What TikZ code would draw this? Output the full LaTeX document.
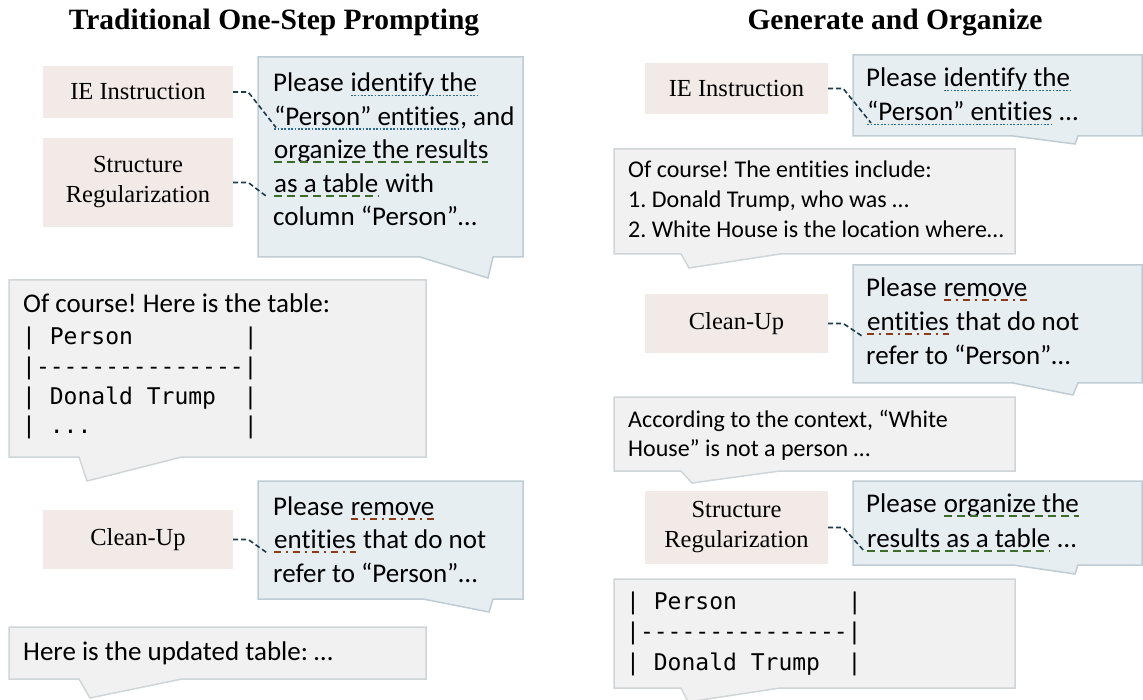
\documentclass[tikz,border=0pt]{standalone}
\usepackage{fontspec}
\setmainfont{Liberation Serif}
\setmonofont{DejaVu Sans Mono}
\newfontfamily\bubfont[Ligatures=NoCommon]{Carlito}
\frenchspacing

\definecolor{labelfill}{HTML}{F2EAE7}
\definecolor{bluefill}{HTML}{E7EEF2}
\definecolor{blueedge}{HTML}{BFCCD4}
\definecolor{grayfill}{HTML}{F1F1F1}
\definecolor{grayedge}{HTML}{D0D5D8}
\definecolor{conncol}{HTML}{1C3B4C}
\definecolor{idblue}{HTML}{2B6A96}
\definecolor{orggreen}{HTML}{3D6B2A}
\definecolor{rmbrown}{HTML}{8E3A17}

% underlined words inside a bubble line
\newcommand{\mkline}[2]{\tikz[baseline=(w.base)]{\node[inner sep=0pt,outer sep=0pt] (w) {#2};
  \draw[#1] ([yshift=-3.5pt]w.base west) -- ([yshift=-3.5pt]w.base east);}}
% speech bubble: style, x1, y1, x2, y2, tail left, tip x, tip y, tail right
\newcommand{\bubble}[9]{\draw[#1] (#2,#3) -- (#4,#3) -- (#4,#5) -- (#9,#5) -- (#7,#8) -- (#6,#5) -- (#2,#5) -- cycle;}

\begin{document}
\begin{tikzpicture}  % ------ one-step vs generate and organize --------------
      [x=1pt,y=-1pt,
       title/.style={font=\fontsize{29.5}{33}\selectfont\bfseries},
       label/.style={fill=labelfill,inner sep=0pt,align=center,
         font=\fontsize{24.5}{30}\selectfont},
       bluebub/.style={fill=bluefill,draw=blueedge,line width=1.5pt},
       graybub/.style={fill=grayfill,draw=grayedge,line width=1.5pt},
       ln/.style={anchor=base west,inner sep=0pt,font=\bubfont\fontsize{27}{33}\selectfont},
       lns/.style={anchor=base west,inner sep=0pt,font=\bubfont\fontsize{24}{30}\selectfont},
       lnm/.style={anchor=base west,inner sep=0pt,font=\ttfamily\fontsize{23}{30}\selectfont},
       conn/.style={draw=conncol,line width=1.6pt,dash pattern=on 5pt off 3pt},
       idline/.style={draw=idblue,line width=1.8pt,dash pattern=on 1.8pt off 1.6pt},
       orgline/.style={draw=orggreen,line width=2pt,dash pattern=on 8pt off 5pt},
       rmline/.style={draw=rmbrown,line width=2pt,dash pattern=on 7pt off 5pt on 2pt off 5pt}]
    \useasboundingbox (0,0) rectangle (1143,700);

    \node[title] (tL) at (274,23) {Traditional One-Step Prompting};
    \node[title] (tR) at (895,23) {Generate and Organize};

    % ---- left column
    \bubble{bluebub}{258}{57}{523}{257}{420}{488}{278}{493}
    \bubble{graybub}{9}{280}{426}{457}{79}{87}{481}{182}
    \bubble{bluebub}{258}{481}{523}{599}{423}{489}{612}{493}
    \bubble{graybub}{9}{627}{426}{679}{79}{90}{698}{182}

    \node[label,minimum width=190pt,minimum height=52pt] (ieL) at (138,92) {IE Instruction};
    \node[label,minimum width=190pt,minimum height=89pt] (srL) at (138,182.5) {Structure\\Regularization};
    \node[label,minimum width=190pt,minimum height=59pt] (cuL) at (138,539.5) {Clean-Up};

    \node[ln] (A1) at (273,92) {Please \mkline{idline}{identify the}};
    \node[ln] (A2) at (273,125.5) {\mkline{idline}{“Person” entities}, and};
    \node[ln] (A3) at (273,159) {\mkline{orgline}{organize the results}};
    \node[ln] (A4) at (273,192.5) {\mkline{orgline}{as a table} with};
    \node[ln] (A5) at (273,226) {column “Person”…};

    \node[ln] (B1) at (23,313) {Of course! Here is the table:};
    \node[lnm] (B2) at (22,345) {|~Person~~~~~~~~|};
    \node[lnm] (B3) at (22,374.5) {|---------------|};
    \node[lnm] (B4) at (22,404) {|~Donald~Trump~~|};
    \node[lnm] (B5) at (22,433.5) {|~...~~~~~~~~~~~|};

    \node[ln] (C1) at (273,515) {Please \mkline{rmline}{remove}};
    \node[ln] (C2) at (273,548.5) {\mkline{rmline}{entities} that do not};
    \node[ln] (C3) at (273,582) {refer to “Person”…};

    \node[ln] (D1) at (23,660) {Here is the updated table: …};

    \draw[conn] (ieL.east) -- ++(15,0) -- ([shift={(3,2)}]A2.base west);
    \draw[conn] (srL.east) -- ++(15,0) -- ([shift={(-5,5)}]A4.base west);
    \draw[conn] (cuL.east) -- ++(15,0) -- ([shift={(-5,5)}]C2.base west);

    % ---- right column
    \bubble{bluebub}{853}{55}{1142}{136}{1013}{1075}{144}{1078}
    \bubble{graybub}{614}{149}{1015}{254}{681}{689}{268}{780}
    \bubble{bluebub}{853}{265}{1142}{383}{1013}{1073}{395}{1078}
    \bubble{graybub}{614}{397}{1015}{471}{681}{692}{483}{780}
    \bubble{bluebub}{853}{481}{1142}{565}{1013}{1075}{574}{1078}
    \bubble{graybub}{614}{579}{1015}{688}{681}{688}{702}{780}

    \node[label,minimum width=183pt,minimum height=51pt] (ieR) at (736.5,88.5) {IE Instruction};
    \node[label,minimum width=183pt,minimum height=59pt] (cuR) at (736.5,323.5) {Clean-Up};
    \node[label,minimum width=183pt,minimum height=73pt] (srR) at (736.5,527.5) {Structure\\Regularization};

    \node[ln] (E1) at (866,87) {Please \mkline{idline}{identify the}};
    \node[ln] (E2) at (866,121) {\mkline{idline}{“Person” entities} …};

    \node[lns] (F1) at (628,178) {Of course! The entities include:};
    \node[lns] (F2) at (628,208) {1. Donald Trump, who was …};
    \node[lns] (F3) at (628,238) {2. White House is the location where…};

    \node[ln] (G1) at (866,297) {Please \mkline{rmline}{remove}};
    \node[ln] (G2) at (866,331) {\mkline{rmline}{entities} that do not};
    \node[ln] (G3) at (866,365) {refer to “Person”…};

    \node[lns] (H1) at (628,427) {According to the context, “White};
    \node[lns] (H2) at (628,456.5) {House” is not a person …};

    \node[ln] (K1) at (866,512) {Please \mkline{orgline}{organize the}};
    \node[ln] (K2) at (866,547) {\mkline{orgline}{results as a table} …};

    \node[lnm] (M1) at (626,609) {|~Person~~~~~~~~|};
    \node[lnm] (M2) at (626,639.5) {|---------------|};
    \node[lnm] (M3) at (626,670) {|~Donald~Trump~~|};

    \draw[conn] (ieR.east) -- ++(15,0) -- ([shift={(5,2)}]E2.base west);
    \draw[conn] (cuR.east) -- ++(15,0) -- ([shift={(-4,5)}]G2.base west);
    \draw[conn] (srR.east) -- ++(15,0) -- ([shift={(-1,5)}]K2.base west);
\end{tikzpicture}
\end{document}
